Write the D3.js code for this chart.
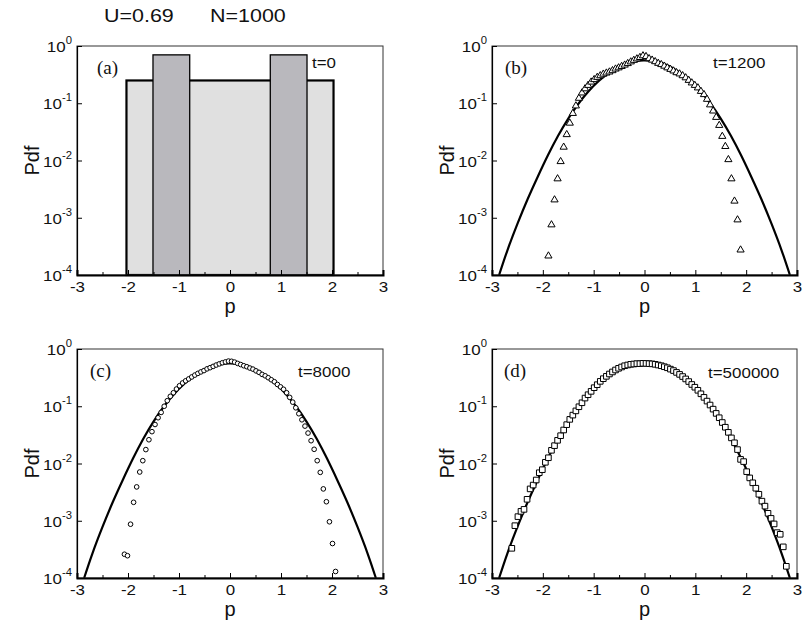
<!DOCTYPE html>
<html>
<head>
<meta charset="utf-8">
<script src="https://cdn.jsdelivr.net/npm/d3@7"></script>
<style>
body { margin: 0; background: #fff; }
svg { display: block; }
text { font-family: Arial, "Liberation Sans", sans-serif; fill: #111; }
</style>
</head>
<body>
<svg id="chart" width="803" height="627"></svg>
<script>

// axis ranges and ticks
var pDomain = [-3, 3];
var pdfDomain = [1e-4, 1];
var xMajor = [-3, -2, -1, 0, 1, 2, 3];
var xMinor = [-2.5, -1.5, -0.5, 0.5, 1.5, 2.5];
var yTicks = [1, 0.1, 0.01, 0.001, 0.0001];
var yExp = ["0", "-1", "-2", "-3", "-4"];

var panelLetters = ["(a)", "(b)", "(c)", "(d)"];
var timeLabels = ["t=0", "t=1200", "t=8000", "t=500000"];

// t=0 : initial histogram [from, to, pdf]
var initFlat = [[-2.03, 2.03, 0.25]];
var initPeaks = [[-1.51, -0.79, 0.70], [0.79, 1.51, 0.70]];

// equilibrium curve [p, pdf]
var theory = [[-2.86,1.0e-4],[-2.7,2.65e-4],[-2.5,7.8e-4],[-2.3,2.1e-3],[-2.1,5.2e-3],[-1.9,1.23e-2],
  [-1.7,2.7e-2],[-1.5,5.4e-2],[-1.3,0.098],[-1.1,0.162],[-0.9,0.245],[-0.7,0.34],[-0.5,0.44],
  [-0.3,0.515],[-0.1,0.555],[0,0.56],[0.1,0.555],[0.3,0.515],[0.5,0.44],[0.7,0.34],[0.9,0.245],
  [1.1,0.162],[1.3,0.098],[1.5,5.4e-2],[1.7,2.7e-2],[1.9,1.23e-2],[2.1,5.2e-3],[2.3,2.1e-3],
  [2.5,7.8e-4],[2.7,2.65e-4],[2.86,1.0e-4]];

// t=1200 (triangles)
var pdfT1200 = [[-1.89,2.2e-4],[-1.83,7.7e-4],[-1.77,2.1e-3],[-1.71,4.9e-3],[-1.65,9.8e-3],[-1.59,1.75e-2],
  [-1.53,2.9e-2],[-1.47,4.6e-2],[-1.41,6.8e-2],[-1.35,9.2e-2],[-1.29,0.125],[-1.23,0.155],[-1.17,0.183],
  [-1.11,0.21],[-1.05,0.24],[-0.99,0.265],[-0.93,0.29],[-0.87,0.31],[-0.81,0.33],[-0.75,0.345],
  [-0.69,0.36],[-0.63,0.38],[-0.57,0.405],[-0.51,0.425],[-0.45,0.45],[-0.39,0.475],[-0.33,0.505],
  [-0.27,0.54],[-0.21,0.575],[-0.15,0.61],[-0.09,0.645],[-0.03,0.69],[0.03,0.67],[0.09,0.615],
  [0.15,0.58],[0.21,0.545],[0.27,0.51],[0.33,0.485],[0.39,0.455],[0.45,0.425],[0.51,0.40],[0.57,0.375],
  [0.63,0.35],[0.69,0.333],[0.75,0.31],[0.81,0.285],[0.87,0.257],[0.93,0.232],[0.99,0.21],[1.05,0.19],
  [1.11,0.165],[1.17,0.145],[1.23,0.12],[1.29,0.096],[1.35,0.075],[1.41,0.058],[1.47,0.042],[1.53,0.027],
  [1.59,0.018],[1.65,0.0106],[1.71,4.9e-3],[1.77,2.0e-3],[1.83,9.4e-4],[1.89,2.8e-4]];

// t=8000 (circles)
var pdfT8000 = [[-2.07,2.6e-4],[-2.01,2.45e-4],[-1.95,8.7e-4],[-1.89,2.1e-3],[-1.83,3.9e-3],[-1.77,7.1e-3],
  [-1.71,1.12e-2],[-1.65,1.75e-2],[-1.59,2.6e-2],[-1.53,3.6e-2],[-1.47,4.8e-2],[-1.41,6.3e-2],[-1.35,7.8e-2],
  [-1.29,0.1],[-1.23,0.125],[-1.17,0.149],[-1.11,0.172],[-1.05,0.2],[-0.99,0.228],[-0.93,0.255],
  [-0.87,0.278],[-0.81,0.30],[-0.75,0.325],[-0.69,0.35],[-0.63,0.375],[-0.57,0.398],[-0.51,0.42],
  [-0.45,0.45],[-0.39,0.472],[-0.33,0.497],[-0.27,0.525],[-0.21,0.55],[-0.15,0.575],[-0.09,0.595],
  [-0.03,0.615],[0.03,0.61],[0.09,0.59],[0.15,0.56],[0.21,0.535],[0.27,0.51],[0.33,0.49],[0.39,0.465],
  [0.45,0.445],[0.51,0.415],[0.57,0.39],[0.63,0.36],[0.69,0.34],[0.75,0.315],[0.81,0.29],[0.87,0.268],
  [0.93,0.24],[0.99,0.218],[1.05,0.198],[1.11,0.172],[1.17,0.143],[1.23,0.118],[1.29,0.094],[1.35,0.074],
  [1.41,0.058],[1.47,0.045],[1.53,0.034],[1.59,0.025],[1.65,0.0177],[1.71,0.0112],[1.77,7.0e-3],
  [1.83,3.6e-3],[1.89,2.15e-3],[1.95,9.6e-4],[2.01,4.0e-4],[2.07,1.3e-4]];

// t=500000 (squares)
var pdfT500000 = [[-2.61,3.3e-4],[-2.55,8.2e-4],[-2.49,1.18e-3],[-2.43,1.46e-3],[-2.37,1.58e-3],[-2.31,2.37e-3],
  [-2.25,3.6e-3],[-2.19,4.2e-3],[-2.13,5.15e-3],[-2.07,6.9e-3],[-2.01,7.8e-3],[-1.95,1.05e-2],[-1.89,1.26e-2],
  [-1.83,1.7e-2],[-1.77,2.05e-2],[-1.71,2.54e-2],[-1.65,3.06e-2],[-1.59,3.85e-2],[-1.53,4.77e-2],
  [-1.47,5.9e-2],[-1.41,7.0e-2],[-1.35,8.3e-2],[-1.29,9.8e-2],[-1.23,0.115],[-1.17,0.139],[-1.11,0.159],
  [-1.05,0.182],[-0.99,0.211],[-0.93,0.238],[-0.87,0.272],[-0.81,0.303],[-0.75,0.333],[-0.69,0.366],
  [-0.63,0.397],[-0.57,0.43],[-0.51,0.46],[-0.45,0.485],[-0.39,0.51],[-0.33,0.526],[-0.27,0.54],
  [-0.21,0.547],[-0.15,0.555],[-0.09,0.555],[-0.03,0.562],[0.03,0.56],[0.09,0.555],[0.15,0.55],
  [0.21,0.54],[0.27,0.525],[0.33,0.51],[0.39,0.49],[0.45,0.47],[0.51,0.445],[0.57,0.42],[0.63,0.39],
  [0.69,0.36],[0.75,0.33],[0.81,0.30],[0.87,0.27],[0.93,0.24],[0.99,0.215],[1.05,0.19],[1.11,0.165],
  [1.17,0.143],[1.23,0.123],[1.29,0.105],[1.35,0.089],[1.41,0.075],[1.47,0.063],[1.53,0.052],[1.59,0.043],
  [1.65,0.035],[1.71,0.028],[1.77,0.023],[1.83,0.0175],[1.89,0.0118],[1.95,0.0108],[2.01,0.0072],
  [2.07,0.0056],[2.13,0.0046],[2.19,0.0037],[2.25,0.0029],[2.31,0.0022],[2.37,0.0018],[2.43,0.00135],
  [2.49,0.0011],[2.55,0.00088],[2.61,0.00062],[2.67,0.00058],[2.73,0.00035],[2.79,0.00016]];

var svg = d3.select("#chart");
var stretch = "scale(1.13,1)"; // the original lettering is a bit wide

// panel frames in page pixels
var panels = [
  {x0: 77,  x1: 383, y0: 46,  y1: 275, lx: 97,  tx: 312, ty: 22},
  {x0: 492, x1: 797, y0: 46,  y1: 275, lx: 505, tx: 713, ty: 22},
  {x0: 77,  x1: 383, y0: 349, y1: 578, lx: 90,  tx: 298, ty: 28},
  {x0: 492, x1: 797, y0: 349, y1: 578, lx: 504, tx: 708, ty: 29}
];

// title
svg.append("text").attr("transform", "translate(104,22) " + stretch).style("font-size", "19px").text("U=0.69");
svg.append("text").attr("transform", "translate(210,22) " + stretch).style("font-size", "19px").text("N=1000");

panels.forEach(function (pn, i) {
    var x = d3.scaleLinear().domain(pDomain).range([pn.x0, pn.x1]);
    var y = d3.scaleLog().domain(pdfDomain).range([pn.y1, pn.y0]);
    var g = svg.append("g").attr("class", "panel" + i);

    if (i === 0) drawInitial(g, x, y);
    if (i > 0) {
        g.append("path")
            .datum(theory)
            .attr("d", d3.line().x(d => x(d[0])).y(d => y(d[1])).curve(d3.curveNatural))
            .attr("fill", "none")
            .attr("stroke", "#000")
            .attr("stroke-width", 2.2);
    }
    if (i === 1) drawPoints(g, x, y, pdfT1200, "tri");
    if (i === 2) drawPoints(g, x, y, pdfT8000, "circ");
    if (i === 3) drawPoints(g, x, y, pdfT500000, "sq");

    // frame
    g.append("rect")
        .attr("x", pn.x0).attr("y", pn.y0)
        .attr("width", pn.x1 - pn.x0).attr("height", pn.y1 - pn.y0)
        .attr("fill", "none").attr("stroke", "#333").attr("stroke-width", 1);

    // bottom axis, ticks pointing inward
    var xa = g.append("g")
        .attr("transform", "translate(0," + pn.y1 + ")")
        .call(d3.axisBottom(x).tickValues(xMajor).tickSize(-5).tickFormat(d => String(d)));
    xa.select(".domain").attr("stroke-width", 2);
    xa.selectAll("text")
        .attr("y", 6)
        .attr("transform", stretch)
        .attr("fill", "#111")
        .style("font-size", "15px")
        .style("font-family", "Arial, 'Liberation Sans', sans-serif");
    g.append("g")
        .attr("transform", "translate(0," + pn.y1 + ")")
        .call(d3.axisBottom(x).tickValues(xMinor).tickSize(-3).tickFormat(""))
        .select(".domain").remove();

    // left axis
    var ya = g.append("g")
        .attr("transform", "translate(" + pn.x0 + ",0)")
        .call(d3.axisLeft(y).tickValues(yTicks).tickSize(-5).tickFormat(""));
    ya.select(".domain").attr("stroke-width", 1.2);

    yTicks.forEach(function (v, k) {
        var t = g.append("text")
            .attr("transform", "translate(" + (pn.x0 - 5) + "," + (y(v) + 6) + ") " + stretch)
            .attr("text-anchor", "end")
            .style("font-size", "15px");
        t.append("tspan").text("10");
        t.append("tspan").attr("dy", -8).style("font-size", "10px").text(yExp[k]);
    });

    // axis titles
    g.append("text")
        .attr("transform", "translate(" + (pn.x0 - 38) + "," + ((pn.y0 + pn.y1) / 2) + ") rotate(-90)")
        .attr("text-anchor", "middle")
        .style("font-size", "20px")
        .text("Pdf");
    g.append("text")
        .attr("x", (pn.x0 + pn.x1) / 2)
        .attr("y", pn.y1 + 38)
        .attr("text-anchor", "middle")
        .style("font-size", "20px")
        .text("p");

    g.append("text")
        .attr("x", pn.lx).attr("y", pn.y0 + 28)
        .style("font-family", "'Liberation Serif', 'Times New Roman', serif")
        .style("font-size", "19px")
        .text(panelLetters[i]);
    g.append("text")
        .attr("transform", "translate(" + pn.tx + "," + (pn.y0 + pn.ty) + ") " + stretch)
        .style("font-size", "15px")
        .text(timeLabels[i]);
});

function drawInitial(g, x, y) {
    g.selectAll("rect.flat").data(initFlat).enter().append("rect")
        .attr("class", "flat")
        .attr("x", d => x(d[0]))
        .attr("y", d => y(d[2]))
        .attr("width", d => x(d[1]) - x(d[0]))
        .attr("height", d => y(1e-4) - y(d[2]))
        .attr("fill", "#e0e0e0")
        .attr("stroke", "#000")
        .attr("stroke-width", 2.2);
    g.selectAll("rect.peak").data(initPeaks).enter().append("rect")
        .attr("class", "peak")
        .attr("x", d => x(d[0]))
        .attr("y", d => y(d[2]))
        .attr("width", d => x(d[1]) - x(d[0]))
        .attr("height", d => y(1e-4) - y(d[2]))
        .attr("fill", "#b9b8bd")
        .attr("stroke", "#000")
        .attr("stroke-width", 1.3);
}

function drawPoints(g, x, y, data, kind) {
    var sel = g.selectAll("path.pt").data(data).enter().append("path")
        .attr("class", "pt")
        .attr("transform", d => "translate(" + x(d[0]) + "," + y(d[1]) + ")")
        .attr("fill", "#fff")
        .attr("stroke", "#000")
        .attr("stroke-width", 1);
    if (kind === "tri") sel.attr("d", "M0,-3.6L3.6,2.6L-3.6,2.6Z");
    if (kind === "circ") sel.attr("d", d3.symbol().type(d3.symbolCircle).size(17));
    if (kind === "sq") sel.attr("d", "M-2.8,-2.8H2.8V2.8H-2.8Z");
}

</script>
</body>
</html>
